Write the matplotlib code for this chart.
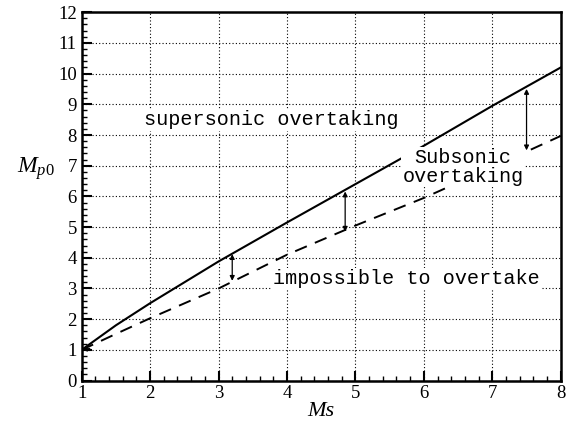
import numpy as np
from matplotlib import pyplot as plt
from matplotlib.ticker import MultipleLocator

plt.rcParams["mathtext.fontset"] = "custom"
plt.rcParams["mathtext.it"] = "Liberation Serif:italic"
plt.rcParams["mathtext.rm"] = "Liberation Serif"

ms = [1.0, 1.5, 2.0, 3.0, 4.0, 5.0, 6.0, 7.0, 8.0]
mp0_limit = [1.0, 1.8, 2.52, 3.88, 5.15, 6.4, 7.65, 8.95, 10.2]
mp0_lower = [1.0, 1.52, 2.03, 3.0, 4.1, 5.05, 5.95, 6.95, 7.97]

arrow_x = [3.2, 4.85, 7.5]
arrow_top = [4.12, 6.16, 9.5]
arrow_bottom = [3.25, 4.85, 7.5]

fig = plt.figure(figsize=(5.67, 4.21), dpi=100)
ax = fig.add_axes([0.144, 0.096, 0.845, 0.875])

ax.plot(ms, mp0_limit, color="black", lw=1.5, zorder=2)
ax.plot(ms, mp0_lower, color="black", lw=1.4, dashes=(6.5, 4.5), zorder=2)

for x, top, bot in zip(arrow_x, arrow_top, arrow_bottom):
    ax.annotate("", xy=(x, bot), xytext=(x, top),
                arrowprops=dict(arrowstyle="<|-|>", color="black", lw=0.9,
                                mutation_scale=7, shrinkA=0, shrinkB=0),
                zorder=3)
# small arrowhead at the common start point
ax.annotate("", xy=(ms[0], mp0_limit[0]), xytext=(ms[0] + 0.12, mp0_limit[0] + 0.05),
            arrowprops=dict(arrowstyle="-|>", color="black", lw=0.8,
                            mutation_scale=8, shrinkA=0, shrinkB=0), zorder=3)

box = dict(facecolor="white", edgecolor="none", pad=1)
mono = dict(family="Liberation Mono", fontsize=14.5, zorder=4, bbox=box)
ax.text(1.91, 8.49, "supersonic overtaking", ha="left", va="center", **mono)
ax.text(6.57, 6.96, "Subsonic\novertaking", ha="center", va="center",
        linespacing=1.0, **mono)
ax.text(3.79, 3.31, "impossible to overtake", ha="left", va="center", **mono)

ax.set_xlim(1, 8)
ax.set_ylim(0, 12)
ax.xaxis.set_major_locator(MultipleLocator(1))
ax.xaxis.set_minor_locator(MultipleLocator(0.2))
ax.yaxis.set_major_locator(MultipleLocator(1))
ax.yaxis.set_minor_locator(MultipleLocator(0.2))
ax.tick_params(which="major", direction="in", length=7, width=1.5,
               labelsize=13.5, top=False, right=False)
ax.tick_params(which="minor", direction="in", length=3.5, width=1.0,
               top=False, right=False)
for lab in ax.get_xticklabels() + ax.get_yticklabels():
    lab.set_family("Liberation Serif")
ax.grid(True, which="major", color="black", linestyle=(0, (1, 2)), lw=0.8, zorder=1)
for s in ax.spines.values():
    s.set_linewidth(1.8)

ax.set_xlabel("Ms", family="Liberation Serif", style="italic", fontsize=16, labelpad=0)
ax.set_ylabel("$M_{p0}$", fontsize=17, rotation=0)
ax.yaxis.set_label_coords(-0.095, 0.54)

fig.savefig("out.png", dpi=100)
